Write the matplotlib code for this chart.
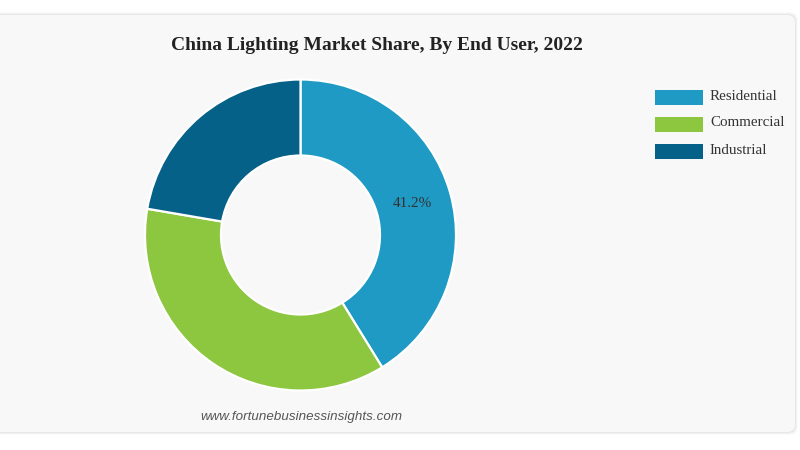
import matplotlib.pyplot as plt
from matplotlib.patches import FancyBboxPatch

# data
labels = ['Residential', 'Commercial', 'Industrial']
shares = [41.2, 36.5, 22.3]
colors = ['#1e9ac4', '#8dc63f', '#066188']
title = 'China Lighting Market Share, By End User, 2022'
source = 'www.fortunebusinessinsights.com'

fig = plt.figure(figsize=(8, 4.5), dpi=100)
fig.patch.set_facecolor('white')
ax = fig.add_axes([0, 0, 1, 1])
ax.set_xlim(0, 800)
ax.set_ylim(0, 450)
ax.axis('off')

# card background with soft shadow
for i, a in enumerate([0.02, 0.03, 0.045]):
    pad = 3 - i
    ax.add_patch(FancyBboxPatch((-10 - pad, 18 - pad), 805 + 2 * pad, 417 + 2 * pad,
                                boxstyle='round,pad=0,rounding_size=8',
                                facecolor='black', alpha=a, edgecolor='none', zorder=0))
ax.add_patch(FancyBboxPatch((-10, 18), 805, 417, boxstyle='round,pad=0,rounding_size=8',
                            facecolor='#f8f8f8', edgecolor='none', zorder=1))

def pct_label(p):
    return '%.1f%%' % p if p > 40 else ''

wedges, texts, autotexts = ax.pie(shares, colors=colors, startangle=90, counterclock=False,
                                  center=(300.5, 215), radius=155.5,
                                  wedgeprops=dict(width=76, edgecolor='white', linewidth=1.6),
                                  autopct=pct_label, pctdistance=0.745, frame=True)
for w in wedges:
    w.set_zorder(3)
for t in autotexts:
    t.set_fontfamily('Liberation Serif')
    t.set_fontsize(11)
    t.set_color('#333333')
    t.set_zorder(4)
ax.set_xlim(0, 800)
ax.set_ylim(0, 450)
ax.axis('off')

ax.text(377, 405, title, ha='center', va='center', fontsize=14, fontweight='bold',
        family='Liberation Serif', color='#222222', zorder=4)

# legend
for i in range(len(labels)):
    y = 353 - i * 27
    ax.add_patch(plt.Rectangle((655, y - 7.5), 48, 15, facecolor=colors[i],
                               edgecolor='none', zorder=4))
    ax.text(710, y + 1, labels[i], ha='left', va='center', fontsize=10.8,
            family='Liberation Serif', color='#333333', zorder=4)

ax.text(301, 33, source, ha='center', va='center', fontsize=9.6, style='italic',
        family='Liberation Sans', color='#555555', zorder=4)

fig.savefig('out.png', dpi=100, facecolor='white')
